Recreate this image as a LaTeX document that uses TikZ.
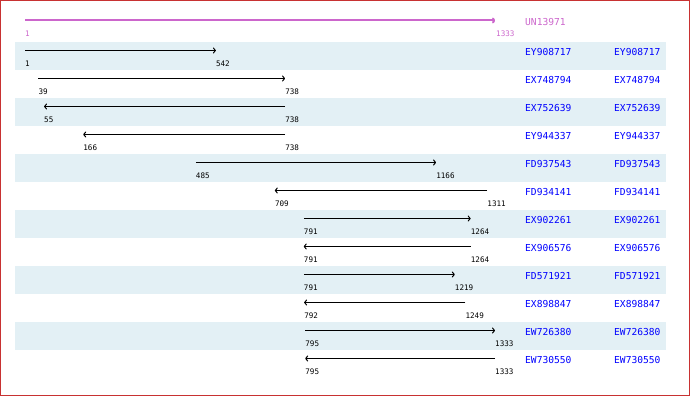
\documentclass[tikz,border=0pt]{standalone}
\usepackage{fontspec}
\newfontfamily\monofnt{DejaVu Sans Mono}
\usetikzlibrary{arrows.meta}
\definecolor{rowshade}{HTML}{E3F0F5}
\definecolor{mag}{HTML}{CC66CC}
\definecolor{frame}{HTML}{C83232}
\definecolor{nameblue}{HTML}{0000FF}
\tikzset{
  seqarr/.style={line width=1pt, -{To[length=3pt,width=6pt]}},
  numlbl/.style={anchor=west, inner sep=0pt, font=\monofnt\fontsize{7.6}{8}\selectfont},
  namelbl/.style={anchor=west, inner sep=0pt, text=nameblue, font=\monofnt\fontsize{9.6}{10}\selectfont},
}
\begin{document}
\begin{tikzpicture}[x=1pt,y=-1pt]
\useasboundingbox (0,0) rectangle (690,396);
\fill[white] (0,0) rectangle (690,396);
% shaded rows
\foreach \i in {1,3,5,7,9,11}{
  \fill[rowshade] (15,{42+28*(\i-1)}) rectangle (666,{70+28*(\i-1)});
}
% title
\coordinate (ts) at (25,20.5);
\coordinate (te) at (495,20.5);
\draw[line width=2pt, mag, -{To[length=3pt,width=6pt]}] (ts) -- (te);
\node[numlbl, text=mag] (tsl) at (25,33.5) {1};
\node[numlbl, text=mag] (tel) at (496,34) {1333};
\node[namelbl, text=mag] (tname) at (525,22) {UN13971};
% rows
\foreach \i/\s/\e/\n in {1/1/542/EY908717, 2/39/738/EX748794, 3/738/55/EX752639,
  4/738/166/EY944337, 5/485/1166/FD937543, 6/1311/709/FD934141,
  7/791/1264/EX902261, 8/1264/791/EX906576, 9/791/1219/FD571921,
  10/1249/792/EX898847, 11/795/1333/EW726380, 12/1333/795/EW730550}{
  \pgfmathsetmacro\xs{25+(\s-1)/1332*470}
  \pgfmathsetmacro\xe{25+(\e-1)/1332*470}
  \pgfmathsetmacro\ya{50.5+28*(\i-1)}
  \pgfmathsetmacro\yl{63.5+28*(\i-1)}
  \pgfmathsetmacro\yn{52+28*(\i-1)}
  \coordinate (s\i) at (\xs,\ya);
  \coordinate (e\i) at (\xe,\ya);
  \draw[seqarr] (s\i) -- (e\i);
  \node[numlbl] (sl\i) at (\xs,\yl) {\s};
  \node[numlbl] (el\i) at (\xe,\yl) {\e};
  \node[namelbl] (na\i) at (525,\yn) {\n};
  \node[namelbl] (nb\i) at (614,\yn) {\n};
}
% frame
\draw[frame, line width=1.2pt] (0.6,0.6) rectangle (689.4,395.4);
\end{tikzpicture}
\end{document}
